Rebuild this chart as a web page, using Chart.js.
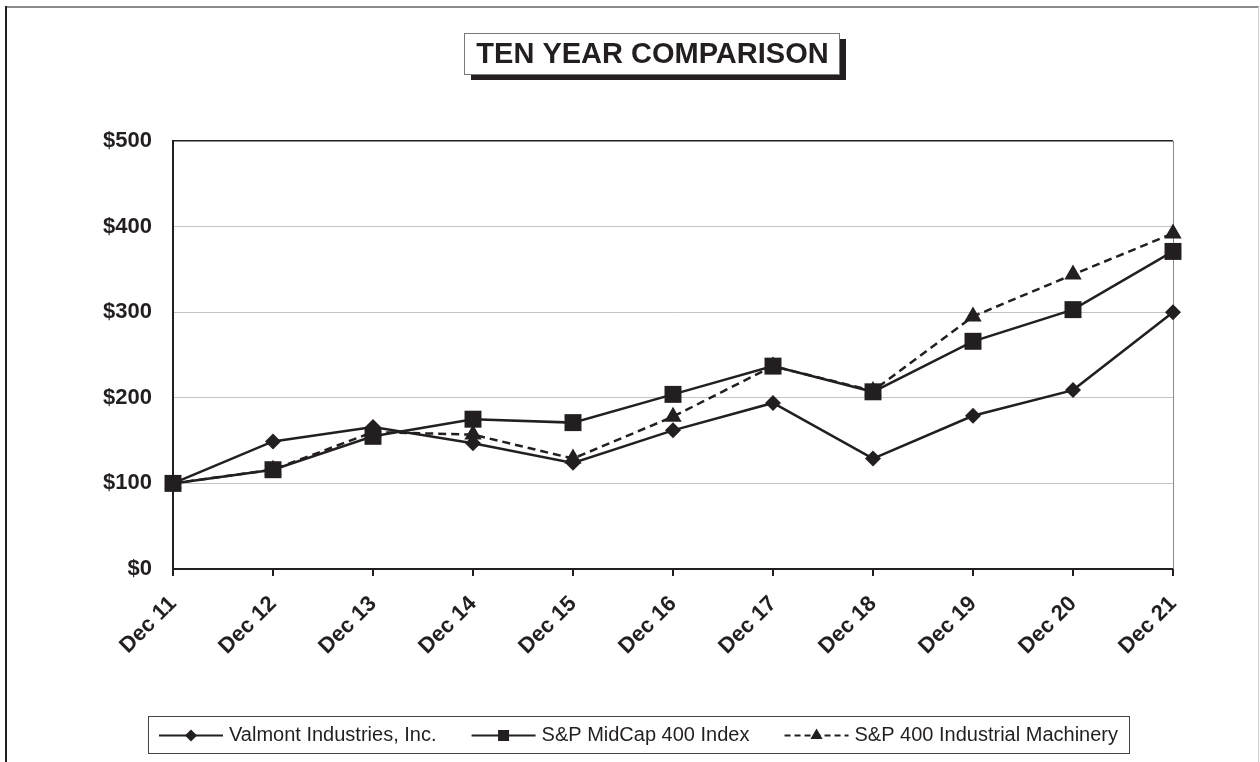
<!DOCTYPE html>
<html>
<head>
<meta charset="utf-8">
<script src="https://cdn.jsdelivr.net/npm/chart.js@4.4.0/dist/chart.umd.min.js"></script>
<style>
  html, body { margin: 0; padding: 0; background: #fff; }
  #wrap { width: 1260px; height: 762px; position: relative; }
</style>
</head>
<body>
<div id="wrap"><canvas id="tenYearChart" width="1260" height="762"></canvas></div>
<script>
const categories = ["Dec 11", "Dec 12", "Dec 13", "Dec 14", "Dec 15", "Dec 16", "Dec 17", "Dec 18", "Dec 19", "Dec 20", "Dec 21"];
const valmont = [100, 149, 166, 147, 124, 162, 194, 129, 179, 209, 300];
const midcap = [100, 116, 155, 175, 171, 204, 237, 207, 266, 303, 371];
const machinery = [100, 116, 160, 157, 129, 178, 237, 208, 295, 344, 392];
const seriesNames = ["Valmont Industries, Inc.", "S&P MidCap 400 Index", "S&P 400 Industrial Machinery"];
const yTickValues = [0, 100, 200, 300, 400, 500];
const chartTitle = "TEN YEAR COMPARISON";

const INK = "#231f20";
const FONT = "'Liberation Sans', Arial, sans-serif";

// white page, outer frame, title box
const framePlugin = {
  id: "frame",
  beforeDraw(chart) {
    const c = chart.ctx;
    c.save();
    c.fillStyle = "#fff";
    c.fillRect(0, 0, chart.width, chart.height);
    c.restore();
  },
  beforeDatasetsDraw(chart) {
    const c = chart.ctx;
    const a = chart.chartArea;
    c.save();
    c.strokeStyle = "#8a8a8a";
    c.lineWidth = 1;
    c.beginPath();
    c.moveTo(Math.round(a.right) + 0.5, a.top);
    c.lineTo(Math.round(a.right) + 0.5, a.bottom);
    c.stroke();
    c.restore();
  },
  afterDraw(chart) {
    const c = chart.ctx;
    c.save();
    // outer frame
    c.lineWidth = 2;
    c.strokeStyle = "#8c8c8c";
    c.beginPath();
    c.moveTo(5, 7); c.lineTo(1259, 7);
    c.stroke();
    c.strokeStyle = INK;
    c.beginPath();
    c.moveTo(6, 6); c.lineTo(6, 762);
    c.stroke();
    c.lineWidth = 1;
    c.strokeStyle = "#d0d0d0";
    c.beginPath();
    c.moveTo(1258.5, 7); c.lineTo(1258.5, 762);
    c.stroke();

    // title with drop shadow
    const bx = 464, by = 33, bw = 375, bh = 41;
    c.fillStyle = INK;
    c.fillRect(bx + 7, by + 6, bw, bh);
    c.fillStyle = "#fff";
    c.fillRect(bx, by, bw, bh);
    c.strokeStyle = "#7a7a7a";
    c.strokeRect(bx + 0.5, by + 0.5, bw, bh);
    c.fillStyle = INK;
    c.font = "bold 29px " + FONT;
    c.textAlign = "center";
    c.textBaseline = "alphabetic";
    c.fillText(chartTitle, bx + bw / 2 + 1, 63);
    c.restore();
  }
};

// boxed legend showing line + marker for each series
const legendPlugin = {
  id: "boxLegend",
  afterDraw(chart) {
    const c = chart.ctx;
    const lx = 148, ly = 716, lw = 981, lh = 37;
    c.save();
    c.fillStyle = "#fff";
    c.fillRect(lx, ly, lw, lh);
    c.strokeStyle = "#444";
    c.lineWidth = 1;
    c.strokeRect(lx + 0.5, ly + 0.5, lw, lh);
    c.font = "20px " + FONT;
    c.textBaseline = "middle";
    c.textAlign = "left";
    const cy = ly + lh / 2 + 1;
    const lineLen = 64;
    const texts = chart.data.datasets.map(d => c.measureText(d.label).width);
    const total = texts.reduce((s, w) => s + w, 0) + 3 * (lineLen + 6);
    const gap = (lw - 22 - total) / 2;
    let x = lx + 11;
    chart.data.datasets.forEach((d, i) => {
      const mx = x + lineLen / 2;
      c.strokeStyle = INK;
      c.lineWidth = 2;
      c.setLineDash(d.borderDash ? [6, 4] : []);
      c.beginPath();
      c.moveTo(x, cy); c.lineTo(x + lineLen, cy);
      c.stroke();
      c.setLineDash([]);
      c.fillStyle = INK;
      c.beginPath();
      if (d.pointStyle === "rectRot") {
        const r = 6;
        c.moveTo(mx - r, cy); c.lineTo(mx, cy - r);
        c.lineTo(mx + r, cy); c.lineTo(mx, cy + r);
      } else if (d.pointStyle === "rect") {
        c.rect(mx - 5.5, cy - 5.5, 11, 11);
      } else {
        const r = 7;
        c.moveTo(mx, cy - r); c.lineTo(mx + r * 0.87, cy + r * 0.5);
        c.lineTo(mx - r * 0.87, cy + r * 0.5);
      }
      c.closePath();
      c.fill();
      c.fillText(d.label, x + lineLen + 6, cy);
      x += lineLen + 6 + texts[i] + gap;
    });
    c.restore();
  }
};

const ctx = document.getElementById("tenYearChart");

new Chart(ctx, {
  type: "line",
  data: {
    labels: categories,
    datasets: [
      {
        label: seriesNames[0],
        data: valmont,
        borderColor: INK,
        backgroundColor: INK,
        borderWidth: 2.5,
        pointStyle: "rectRot",
        pointRadius: 8,
        pointBorderWidth: 0,
        clip: false
      },
      {
        label: seriesNames[1],
        data: midcap,
        borderColor: INK,
        backgroundColor: INK,
        borderWidth: 2.5,
        pointStyle: "rect",
        pointRadius: 12,
        pointBorderWidth: 0,
        clip: false
      },
      {
        label: seriesNames[2],
        data: machinery,
        borderColor: INK,
        backgroundColor: INK,
        borderWidth: 2.5,
        borderDash: [8, 5],
        pointStyle: "triangle",
        pointRadius: 10,
        pointBorderWidth: 0,
        clip: false
      }
    ]
  },
  options: {
    responsive: false,
    animation: false,
    layout: { padding: { top: 141, right: 87, left: 0, bottom: 0 } },
    plugins: {
      legend: { display: false },
      title: { display: false },
      tooltip: { enabled: false }
    },
    scales: {
      x: {
        offset: false,
        grid: {
          drawOnChartArea: false,
          drawTicks: true,
          tickLength: 7,
          color: INK,
          lineWidth: 2
        },
        border: { display: true, color: INK, width: 2 },
        ticks: {
          autoSkip: false,
          maxRotation: 45,
          minRotation: 45,
          padding: 15,
          color: INK,
          font: { family: FONT, size: 22, weight: "bold" }
        },
        afterFit(scale) { scale.height = 193; }
      },
      y: {
        min: yTickValues[0],
        max: yTickValues[yTickValues.length - 1],
        afterBuildTicks(scale) { scale.ticks = yTickValues.map(v => ({ value: v })); },
        grid: {
          drawTicks: false,
          color: c => (c.tick && c.tick.value === 500 ? INK : "#c4c4c4"),
          lineWidth: c => (c.tick && c.tick.value === 500 ? 1.5 : 1)
        },
        border: { display: true, color: INK, width: 2 },
        ticks: {
          padding: 21,
          color: INK,
          font: { family: FONT, size: 22, weight: "bold" },
          callback: v => "$" + v
        },
        afterFit(scale) { scale.width = 173; }
      }
    }
  },
  plugins: [framePlugin, legendPlugin]
});
</script>
</body>
</html>
